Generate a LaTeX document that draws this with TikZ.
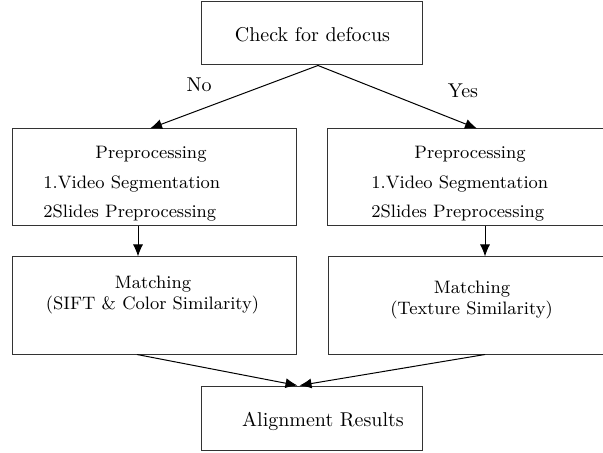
\documentclass[tikz,border=0pt]{standalone}
\usetikzlibrary{arrows.meta,calc}
\begin{document}
\begin{tikzpicture}[x=0.5pt,y=-0.5pt,
  box/.style={draw=black!80,line width=0.5pt,rectangle,inner sep=0pt},
  txt/.style={inner sep=0pt,font=\normalsize},
  stxt/.style={inner sep=0pt,font=\small},
  arr/.style={line width=0.5pt,-{Latex[length=6pt,width=5pt]}}]
\clip (0,0) rectangle (603,453);
\fill[white] (0,0) rectangle (603,453);
% boxes
\node[box,minimum width=110.5pt,minimum height=31.5pt] (top) at (311.5,33.5) {};
\node[box,minimum width=142pt,minimum height=48.5pt] (lp) at (154,177.5) {};
\node[box,minimum width=142.5pt,minimum height=48.5pt] (rp) at (469.5,177.5) {};
\node[box,minimum width=142pt,minimum height=48.5pt] (lm) at (154,305.5) {};
\node[box,minimum width=142pt,minimum height=48.5pt] (rm) at (470,305.5) {};
\node[box,minimum width=110.5pt,minimum height=32pt] (al) at (311.5,418) {};
% texts
\node[txt] (t1) at (312.5,35) {Check for defocus};
\node[stxt] (lp1) at (151,154) {Preprocessing};
\node[stxt,anchor=west] (lp2) at (43,184) {1.Video Segmentation};
\node[stxt,anchor=west] (lp3) at (43,213) {2Slides Preprocessing};
\node[stxt] (rp1) at (470,154) {Preprocessing};
\node[stxt,anchor=west] (rp2) at (371,184) {1.Video Segmentation};
\node[stxt,anchor=west] (rp3) at (371,213) {2Slides Preprocessing};
\node[stxt] (lm1) at (153,284) {Matching};
\node[stxt] (lm2) at (152.5,305) {(SIFT \& Color Similarity)};
\node[stxt] (rm1) at (472,289) {Matching};
\node[stxt] (rm2) at (471.5,310) {(Texture Similarity)};
\node[txt] (al1) at (323,421) {Alignment Results};
\node[txt] (no) at (199,85) {No};
\node[txt] (yes) at (463,91) {Yes};
% connectors
\coordinate (ts) at ($(top.south)+(6.5,0)$);
\coordinate (lpn) at ($(lp.north)+(-4,0)$);
\coordinate (rpn) at ($(rp.north)+(7.5,0)$);
\draw[arr] (ts) -- (lpn);
\draw[arr] (ts) -- (rpn);
\coordinate (lps) at ($(lp.south)+(-16,0)$);
\coordinate (rps) at ($(rp.south)+(15.5,0)$);
\draw[arr] (lps) -- (lps |- lm.north);
\draw[arr] (rps) -- (rps |- rm.north);
\coordinate (lms) at ($(lm.south)+(-17,0)$);
\coordinate (rms) at ($(rm.south)+(15,0)$);
\coordinate (aln) at ($(al.north)+(-14,0)$);
\coordinate (aln2) at ($(al.north)+(-12,0)$);
\draw[arr] (lms) -- (aln);
\draw[arr] (rms) -- (aln2);
\end{tikzpicture}
\end{document}
